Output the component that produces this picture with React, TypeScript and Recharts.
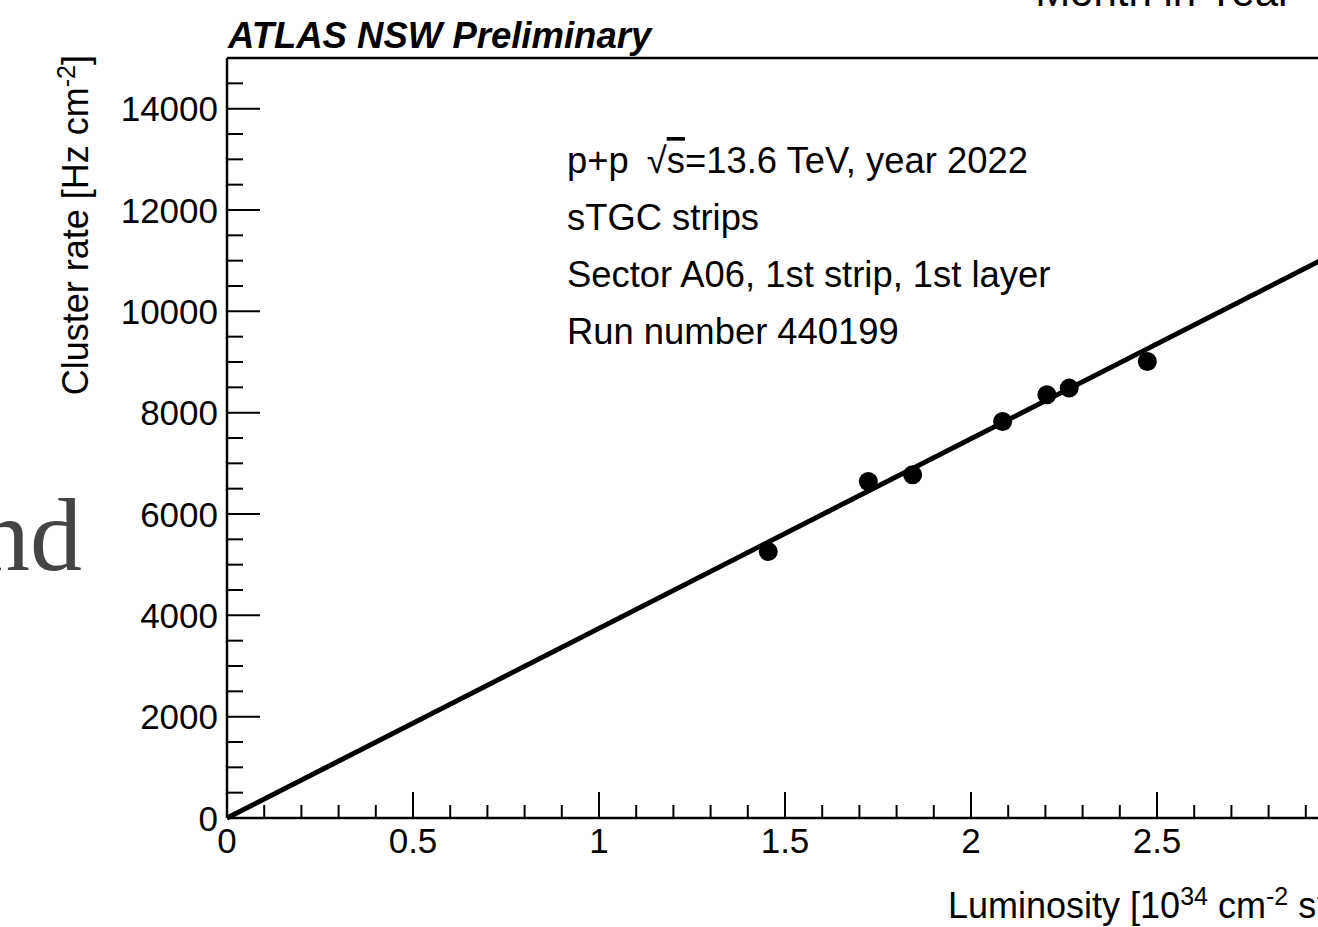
import { ScatterChart, Scatter, XAxis, YAxis } from "recharts";

// measured points (luminosity in 1e34, cluster rate in Hz/cm2)
const lumi = [1.455, 1.724, 1.843, 2.085, 2.204, 2.264, 2.474];
const rate = [5258, 6641, 6773, 7825, 8353, 8485, 9010];

// straight-line fit, drawn between the two ends of the axis
const fitLumi = [0, 3];
const fitRate = [0, 11230];

const xMajor = [0, 0.5, 1, 1.5, 2, 2.5, 3];
const xTicks = [
  0, 0.1, 0.2, 0.3, 0.4, 0.5, 0.6, 0.7, 0.8, 0.9, 1, 1.1, 1.2, 1.3, 1.4, 1.5,
  1.6, 1.7, 1.8, 1.9, 2, 2.1, 2.2, 2.3, 2.4, 2.5, 2.6, 2.7, 2.8, 2.9, 3,
];
const yMajor = [0, 2000, 4000, 6000, 8000, 10000, 12000, 14000];
const yTicks = [
  0, 500, 1000, 1500, 2000, 2500, 3000, 3500, 4000, 4500, 5000, 5500, 6000,
  6500, 7000, 7500, 8000, 8500, 9000, 9500, 10000, 10500, 11000, 11500, 12000,
  12500, 13000, 13500, 14000, 14500, 15000,
];

const infoLines = ["sTGC strips", "Sector A06, 1st strip, 1st layer", "Run number 440199"];

const points = lumi.map((x, i) => ({ x, y: rate[i] }));
const fit = fitLumi.map((x, i) => ({ x, y: fitRate[i] }));

const FONT = "'Liberation Sans', Arial, Helvetica, sans-serif";
const frame = { stroke: "#000", strokeWidth: 2.5 };

function BottomTick({ x, y, payload }: any) {
  const major = xMajor.includes(payload.value);
  return (
    <g>
      <line x1={x} x2={x} y1={y} y2={y - (major ? 26 : 13)} stroke="#000" strokeWidth={2} />
      {major && (
        <text x={x} y={y + 35} textAnchor="middle" fontSize={35} fontFamily={FONT} fill="#000">
          {String(payload.value)}
        </text>
      )}
    </g>
  );
}

function TopTick({ x, y, payload }: any) {
  const major = xMajor.includes(payload.value);
  return <line x1={x} x2={x} y1={y} y2={y + (major ? 26 : 13)} stroke="#000" strokeWidth={2} />;
}

function LeftTick({ x, y, payload }: any) {
  const major = yMajor.includes(payload.value);
  return (
    <g>
      <line x1={x} x2={x + (major ? 33 : 16)} y1={y} y2={y} stroke="#000" strokeWidth={2} />
      {major && (
        <text x={x - 9} y={y + 12.5} textAnchor="end" fontSize={35} fontFamily={FONT} fill="#000">
          {String(payload.value)}
        </text>
      )}
    </g>
  );
}

function RightTick({ x, y, payload }: any) {
  const major = yMajor.includes(payload.value);
  return <line x1={x} x2={x - (major ? 33 : 16)} y1={y} y2={y} stroke="#000" strokeWidth={2} />;
}

function Dot({ cx, cy }: any) {
  return <circle cx={cx} cy={cy} r={9.5} fill="#000" />;
}

export default function App() {
  return (
    <div
      style={{
        position: "absolute",
        left: 0,
        top: 0,
        width: 1318,
        height: 927,
        overflow: "hidden",
        background: "#fff",
        fontFamily: FONT,
      }}
    >
      <ScatterChart width={1400} height={927} margin={{ top: 57, right: 56, bottom: 49, left: 127 }}>
        <XAxis
          xAxisId="b"
          type="number"
          dataKey="x"
          domain={[0, 3]}
          ticks={xTicks}
          interval={0}
          height={60}
          tickSize={0}
          tickMargin={0}
          tickLine={false}
          axisLine={frame}
          tick={<BottomTick />}
        />
        <XAxis
          xAxisId="t"
          orientation="top"
          type="number"
          dataKey="x"
          domain={[0, 3]}
          ticks={xTicks}
          interval={0}
          height={1}
          tickSize={0}
          tickMargin={0}
          tickLine={false}
          axisLine={frame}
          tick={<TopTick />}
        />
        <YAxis
          yAxisId="l"
          type="number"
          dataKey="y"
          domain={[0, 15000]}
          ticks={yTicks}
          interval={0}
          width={100}
          tickSize={0}
          tickMargin={0}
          tickLine={false}
          axisLine={frame}
          tick={<LeftTick />}
        />
        <YAxis
          yAxisId="r"
          orientation="right"
          type="number"
          dataKey="y"
          domain={[0, 15000]}
          ticks={yTicks}
          interval={0}
          width={1}
          tickSize={0}
          tickMargin={0}
          tickLine={false}
          axisLine={frame}
          tick={<RightTick />}
        />
        <Scatter
          xAxisId="b"
          yAxisId="l"
          data={fit}
          line={{ stroke: "#000", strokeWidth: 5 }}
          shape={() => <g />}
          isAnimationActive={false}
        />
        <Scatter xAxisId="b" yAxisId="l" data={points} shape={<Dot />} isAnimationActive={false} />
      </ScatterChart>

      <svg
        width={1318}
        height={927}
        style={{ position: "absolute", left: 0, top: 0, pointerEvents: "none" }}
      >
        <text x={82} y={570} textAnchor="end" fontSize={104} fontFamily="'Liberation Serif', serif" fill="#444">
          nd
        </text>
        <text x={1292} y={6} textAnchor="end" fontSize={42} fontFamily={FONT} fill="#000">
          Month in Year
        </text>
        <text x={228} y={48} fontSize={36.5} fontWeight="bold" fontStyle="italic" fontFamily={FONT} fill="#000">
          ATLAS NSW Preliminary
        </text>
        <text x={567} y={173} fontSize={36.4} fontFamily={FONT} fill="#000">
          p+p<tspan dx={18}>√</tspan>
          <tspan style={{ textDecoration: "overline" }}>s</tspan>=13.6 TeV, year 2022
        </text>
        {infoLines.map((t, i) => (
          <text key={t} x={567} y={230 + i * 57} fontSize={36.4} fontFamily={FONT} fill="#000">
            {t}
          </text>
        ))}
        <text
          x={88}
          y={55}
          transform="rotate(-90, 88, 55)"
          textAnchor="end"
          fontSize={36}
          fontFamily={FONT}
          fill="#000"
        >
          Cluster rate [Hz cm<tspan dy={-13} fontSize={25}>-2</tspan>
          <tspan dy={13}>]</tspan>
        </text>
        <text x={948} y={918} fontSize={36} fontFamily={FONT} fill="#000">
          Luminosity [10<tspan dy={-13} fontSize={25}>34</tspan>
          <tspan dy={13}> cm</tspan>
          <tspan dy={-13} fontSize={25}>-2</tspan>
          <tspan dy={13}> s</tspan>
          <tspan dy={-13} fontSize={25}>-1</tspan>
          <tspan dy={13}>]</tspan>
        </text>
      </svg>
    </div>
  );
}
